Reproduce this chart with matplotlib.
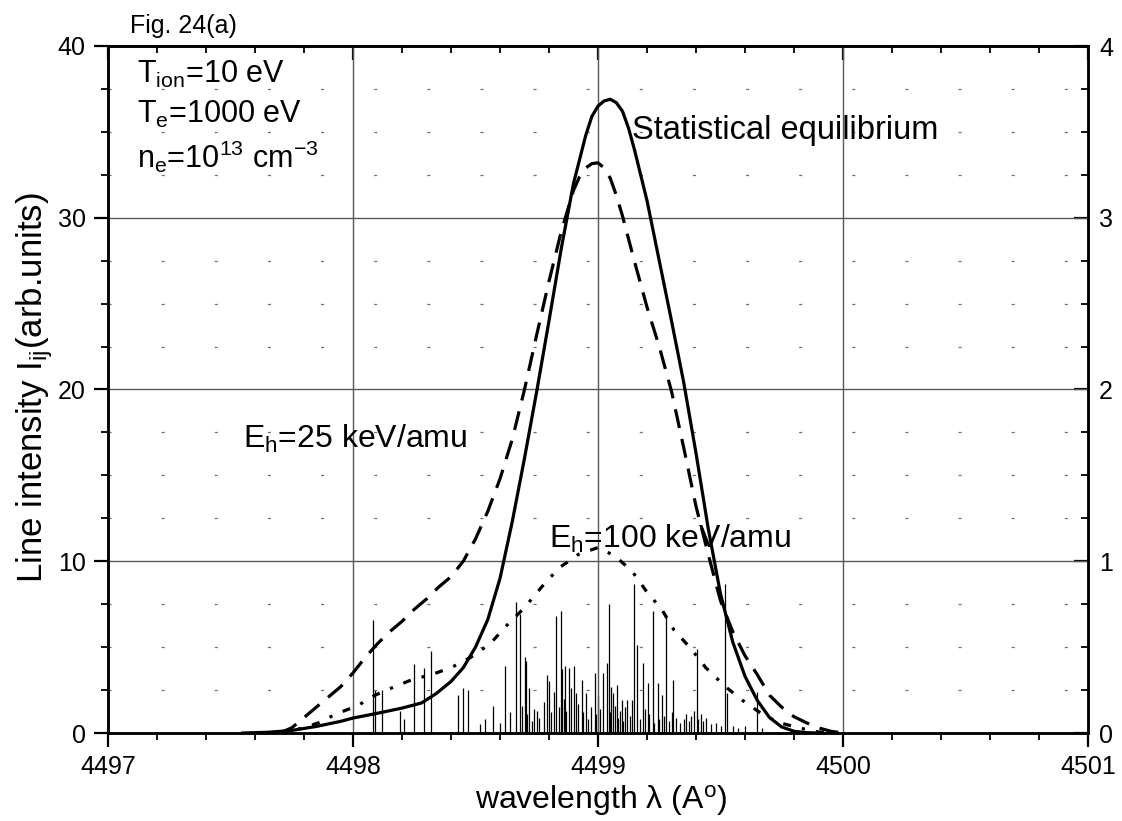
import matplotlib
matplotlib.use("Agg")
import matplotlib.pyplot as plt
from matplotlib.ticker import MultipleLocator

plt.rcParams['font.family'] = ['Liberation Sans', 'DejaVu Sans']
plt.rcParams['mathtext.fontset'] = 'custom'
plt.rcParams['mathtext.rm'] = 'Liberation Sans'
plt.rcParams['mathtext.it'] = 'Liberation Sans:italic'
plt.rcParams['mathtext.bf'] = 'Liberation Sans:bold'
plt.rcParams['mathtext.default'] = 'regular'

# Statistical-equilibrium profile (left axis)
eq_wl = [4497.55, 4497.65, 4497.75, 4497.85, 4497.95, 4498.00, 4498.10, 4498.20,
         4498.28, 4498.34, 4498.40, 4498.45, 4498.50, 4498.55, 4498.60, 4498.65,
         4498.70, 4498.75, 4498.80, 4498.85, 4498.90, 4498.95, 4498.975, 4499.00,
         4499.025, 4499.05, 4499.075, 4499.10, 4499.125, 4499.15, 4499.20, 4499.25,
         4499.30, 4499.35, 4499.40, 4499.45, 4499.50, 4499.55, 4499.60, 4499.65,
         4499.70, 4499.75, 4499.80, 4499.85, 4499.90]
eq_int = [0.0, 0.04, 0.15, 0.38, 0.68, 0.87, 1.15, 1.45,
          1.75, 2.3, 3.0, 3.8, 5.0, 6.6, 9.0, 12.3,
          16.0, 19.9, 24.0, 28.2, 32.0, 34.8, 35.9, 36.5,
          36.8, 36.9, 36.7, 36.2, 35.2, 33.9, 31.0, 27.5,
          24.0, 20.4, 16.3, 11.9, 8.1, 5.3, 3.3, 1.9,
          0.9, 0.35, 0.1, 0.02, 0.0]

# Beam-driven profile, E_h = 25 keV/amu
b25_wl = [4497.70, 4497.75, 4497.80, 4497.85, 4497.90, 4497.95, 4498.00, 4498.05,
          4498.10, 4498.15, 4498.20, 4498.25, 4498.30, 4498.35, 4498.40, 4498.45,
          4498.50, 4498.55, 4498.60, 4498.65, 4498.70, 4498.75, 4498.80, 4498.85,
          4498.90, 4498.925, 4498.95, 4498.975, 4499.00, 4499.025, 4499.05, 4499.075,
          4499.10, 4499.15, 4499.20, 4499.25, 4499.30, 4499.35, 4499.40, 4499.45,
          4499.50, 4499.55, 4499.60, 4499.65, 4499.70, 4499.75, 4499.80, 4499.85,
          4499.90, 4499.95, 4500.00]
b25_int = [0.0, 0.3, 0.9, 1.5, 2.1, 2.7, 3.5, 4.4,
           5.2, 5.9, 6.5, 7.2, 7.8, 8.5, 9.1, 10.0,
           11.3, 12.9, 14.8, 17.1, 20.0, 23.2, 26.3, 29.2,
           31.6, 32.4, 32.9, 33.15, 33.2, 32.9, 32.3, 31.3,
           30.1, 27.4, 24.8, 22.5, 19.9, 16.6, 13.2, 10.4,
           7.7, 5.9, 4.5, 3.4, 2.2, 1.5, 0.95, 0.6,
           0.3, 0.1, 0.0]

# Beam-driven profile, E_h = 100 keV/amu
b100_wl = [4497.70, 4497.80, 4497.86, 4497.93, 4498.02, 4498.09, 4498.17, 4498.24,
           4498.32, 4498.40, 4498.48, 4498.56, 4498.63, 4498.70, 4498.77, 4498.84,
           4498.92, 4499.00, 4499.07, 4499.14, 4499.20, 4499.26, 4499.31, 4499.38,
           4499.44, 4499.52, 4499.59, 4499.67, 4499.74, 4499.82, 4499.90, 4500.00]
b100_int = [0.0, 0.3, 0.6, 1.1, 1.6, 2.2, 2.7, 3.1,
            3.4, 3.8, 4.4, 5.2, 6.3, 7.3, 8.5, 9.6,
            10.4, 10.8, 10.3, 9.4, 8.2, 7.2, 6.0, 4.9,
            3.8, 2.7, 1.9, 1.1, 0.6, 0.3, 0.06, 0.0]

# Individual transition lines (right axis)
line_wl = [4498.08, 4498.09, 4498.12, 4498.19, 4498.21, 4498.25, 4498.29, 4498.32,
           4498.43, 4498.45, 4498.47, 4498.52, 4498.54, 4498.57, 4498.60, 4498.62,
           4498.64, 4498.665, 4498.68, 4498.69, 4498.70, 4498.705, 4498.71, 4498.72,
           4498.73, 4498.74, 4498.75, 4498.76, 4498.78, 4498.79, 4498.80, 4498.81,
           4498.82, 4498.83, 4498.84, 4498.848, 4498.855, 4498.86, 4498.865, 4498.87,
           4498.88, 4498.89, 4498.90, 4498.91, 4498.92, 4498.933, 4498.94, 4498.95,
           4498.96, 4498.97, 4498.988, 4498.99, 4499.00, 4499.01, 4499.022, 4499.035,
           4499.045, 4499.05, 4499.055, 4499.06, 4499.07, 4499.076, 4499.08, 4499.09,
           4499.096, 4499.10, 4499.11, 4499.117, 4499.13, 4499.14, 4499.147, 4499.161,
           4499.17, 4499.185, 4499.19, 4499.205, 4499.21, 4499.223, 4499.23, 4499.245,
           4499.25, 4499.26, 4499.27, 4499.278, 4499.29, 4499.30, 4499.308, 4499.32,
           4499.335, 4499.35, 4499.36, 4499.37, 4499.38, 4499.39, 4499.403, 4499.41,
           4499.42, 4499.43, 4499.44, 4499.46, 4499.48, 4499.50, 4499.518, 4499.525,
           4499.55, 4499.57, 4499.60, 4499.65, 4499.67]
line_int = [0.66, 0.25, 0.25, 0.13, 0.08, 0.40, 0.38, 0.48,
            0.22, 0.26, 0.25, 0.05, 0.08, 0.16, 0.06, 0.39,
            0.12, 0.76, 0.69, 0.16, 0.44, 0.42, 0.11, 0.26,
            0.07, 0.14, 0.13, 0.09, 0.18, 0.34, 0.30, 0.12,
            0.24, 0.68, 0.15, 0.71, 0.37, 0.20, 0.39, 0.13,
            0.38, 0.26, 0.39, 0.23, 0.17, 0.31, 0.12, 0.23,
            0.08, 0.15, 0.35, 0.11, 0.22, 0.14, 0.35, 0.41,
            0.75, 0.12, 0.27, 0.23, 0.16, 0.28, 0.09, 0.13,
            0.19, 0.07, 0.15, 0.19, 0.10, 0.19, 0.87, 0.51,
            0.08, 0.41, 0.14, 0.29, 0.11, 0.71, 0.06, 0.29,
            0.08, 0.22, 0.10, 0.69, 0.07, 0.12, 0.31, 0.09,
            0.06, 0.08, 0.11, 0.07, 0.10, 0.13, 0.49, 0.08,
            0.11, 0.07, 0.09, 0.05, 0.06, 0.04, 0.87, 0.23,
            0.04, 0.03, 0.04, 0.24, 0.03]

x_ticks = [4497, 4498, 4499, 4500, 4501]
left_ticks = [0, 10, 20, 30, 40]
right_ticks = [0, 1, 2, 3, 4]

fig = plt.figure(figsize=(11.22, 8.21), dpi=100)
ax = fig.add_axes([108 / 1122, 88 / 821, 980 / 1122, 687 / 821])
ax2 = ax.twinx()

ax.set_xlim(4497, 4501)
ax.set_ylim(0, 40)
ax2.set_ylim(0, 4)

ax.set_xticks(x_ticks)
ax.set_xticklabels([str(t) for t in x_ticks])
ax.xaxis.set_minor_locator(MultipleLocator(0.2))
ax.set_yticks(left_ticks)
ax.set_yticklabels([str(t) for t in left_ticks])
ax.yaxis.set_minor_locator(MultipleLocator(2.5))
ax2.set_yticks(right_ticks)
ax2.set_yticklabels([str(t) for t in right_ticks])
ax2.yaxis.set_minor_locator(MultipleLocator(0.25))

ax.tick_params(axis='both', which='major', direction='out', length=10, width=1.6,
               labelsize=18, pad=6)
ax.tick_params(axis='both', which='minor', direction='out', length=5, width=1.3)
ax2.tick_params(axis='y', which='major', direction='in', length=10, width=1.6,
                labelsize=18, pad=8)
ax2.tick_params(axis='y', which='minor', direction='in', length=5, width=1.3)

top = ax.secondary_xaxis('top')
top.set_xticks(x_ticks)
top.xaxis.set_minor_locator(MultipleLocator(0.2))
top.tick_params(which='major', direction='in', length=10, width=1.6, labeltop=False)
top.tick_params(which='minor', direction='in', length=5, width=1.3)

for a in (ax, ax2):
    for s in a.spines.values():
        s.set_linewidth(1.8)
top.spines['top'].set_linewidth(1.8)

# grid: solid majors, very sparse dotted minors
ax.grid(which='major', color='0.35', linewidth=1.0)
ax.grid(which='minor', axis='y', color='0.45', linewidth=0.9, linestyle=(0, (2.5, 40)))
ax.set_axisbelow(True)

ax2.vlines(line_wl, 0, line_int, colors='black', linewidth=0.9)

ax.plot(eq_wl, eq_int, color='black', linewidth=2.3, solid_joinstyle='round')
ax.plot(b25_wl, b25_int, color='black', linewidth=2.3, linestyle=(0, (6, 3.5)))
ax.plot(b100_wl, b100_int, color='black', linewidth=2.3, linestyle=(0, (2.5, 3.5, 1, 3.5)))

ax.set_zorder(ax2.get_zorder() + 1)
ax.patch.set_visible(False)

ax.text(4497.12, 37.85, r'T$_{ion}$=10 eV', fontsize=22, va='baseline')
ax.text(4497.12, 35.5, r'T$_{e}$=1000 eV', fontsize=22, va='baseline')
ax.text(4497.12, 32.9, r'n$_{e}$=10$^{13}$ cm$^{-3}$', fontsize=22, va='baseline')
ax.text(4499.14, 34.6, 'Statistical equilibrium', fontsize=23.5, va='baseline')
ax.text(4497.55, 16.6, r'E$_{h}$=25 keV/amu', fontsize=23, va='baseline')
ax.text(4498.80, 10.8, r'E$_{h}$=100 keV/amu', fontsize=23, va='baseline')

fig.text(130 / 1122, 1 - 33 / 821, 'Fig. 24(a)', fontsize=18, va='baseline')
fig.text(35 / 1122, 1 - 388 / 821, r'Line intensity I$_{ij}$(arb.units)',
         fontsize=25, rotation=90, ha='center', va='center')
fig.text(601 / 1122, 1 - 800 / 821, r'wavelength λ (A$^{o}$)',
         fontsize=23, ha='center', va='center')

fig.savefig('out.png', dpi=100)
